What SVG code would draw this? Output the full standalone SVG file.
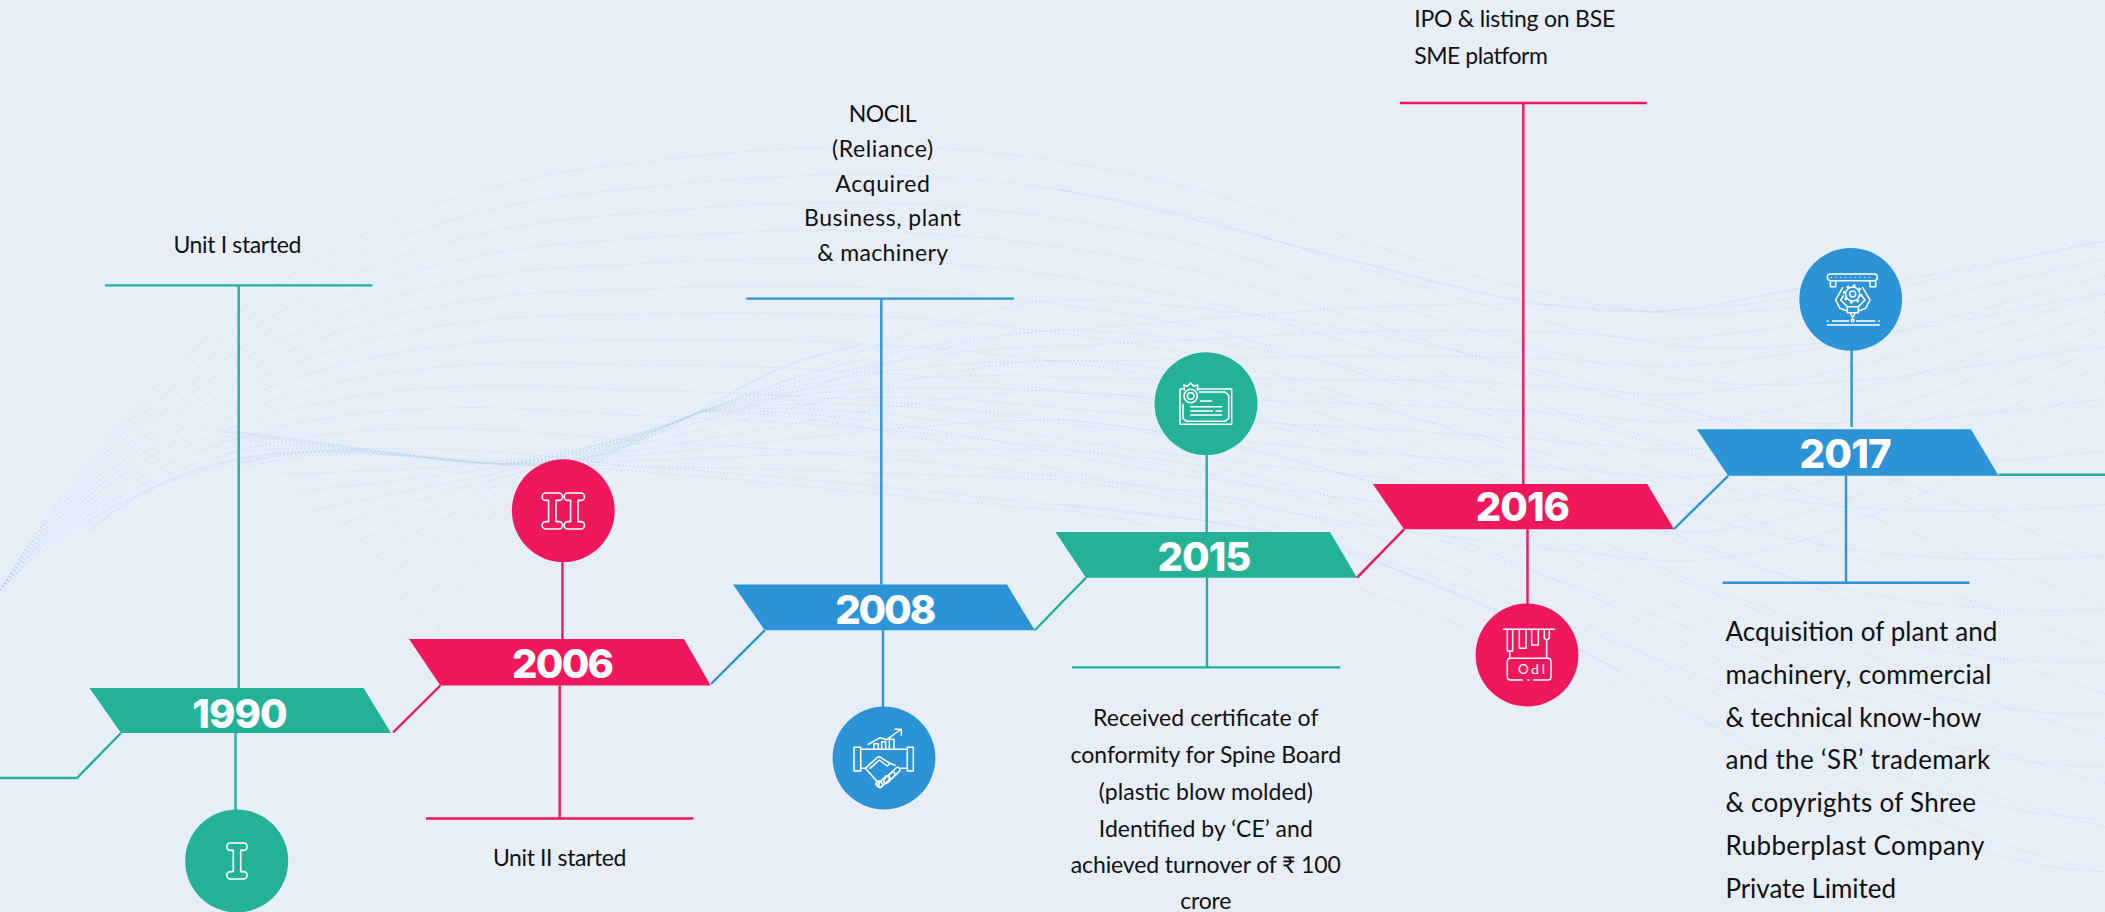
<svg xmlns="http://www.w3.org/2000/svg" width="2105" height="912" viewBox="0 0 2105 912">
<style>
.w{fill:none;stroke:#a9cfee;stroke-width:.9;stroke-dasharray:1.3 2.6;opacity:.7}
.b{fill:none;stroke:#c3dcf2;stroke-linecap:round;stroke-width:2;opacity:.35}
.c{fill:none;stroke-width:2.4}
.tl{stroke:#23b298}.pk{stroke:#f1175c}.bl{stroke:#2c93d6}
.ftl{fill:#23b298}.fpk{fill:#f1175c}.fbl{fill:#2c93d6}
.y{font-family:Inter,"Liberation Sans",sans-serif;font-weight:800;font-size:40px;fill:#fff;text-anchor:middle}
.t{font-family:Lato,"Noto Sans",sans-serif;font-size:23px;fill:#111;text-anchor:middle}
.s{text-anchor:start}
.l{font-size:26px}
.i{fill:none;stroke:#fff;stroke-width:1.6;stroke-linejoin:round;stroke-linecap:round}
.z{fill:none;stroke:#fff;stroke-width:4.6;stroke-linejoin:round;stroke-linecap:round}
</style>
<defs><path id="ibeam" d="M-6.5,-18H6.5a3.7,3.7 0 0 1 0,7.4H3.7V10.6H6.5a3.7,3.7 0 0 1 0,7.4H-6.5a3.7,3.7 0 0 1 0,-7.4H-3.7V-10.6H-6.5a3.7,3.7 0 0 1 0,-7.4Z"/></defs>
<rect width="2105" height="912" fill="#e7eef8"/>
<g id="waves">
<path class="w" d="M0,590C150,440 350,430 620,465C850,480 1000,500 1200,520C1350,545 1500,600 1653,690C1800,780 1950,865 2105,872"/>
<path class="w" d="M0,590C150,432 350,410 620,440C850,451 1000,470 1200,492C1350,519 1500,575 1653,658C1800,742 1950,815 2105,819"/>
<path class="w" d="M0,590C150,423 350,390 620,415C850,422 1000,440 1200,465C1350,493 1500,549 1653,627C1800,704 1950,766 2105,767"/>
<path class="w" d="M0,590C150,415 350,370 620,390C850,394 1000,410 1200,437C1350,468 1500,524 1653,595C1800,666 1950,716 2105,714"/>
<path class="w" d="M0,590C150,407 350,350 620,365C850,365 1000,380 1200,410C1350,442 1500,498 1653,564C1800,628 1950,667 2105,662"/>
<path class="w" d="M0,590C150,398 350,330 620,340C850,336 1000,350 1200,382C1350,416 1500,473 1653,532C1800,590 1950,617 2105,609"/>
<path class="w" d="M0,590C150,390 350,310 620,315C850,307 1000,320 1200,355C1350,390 1500,447 1653,501C1800,553 1950,567 2105,556"/>
<path class="w" d="M0,590C150,382 350,290 620,290C850,279 1000,290 1200,327C1350,364 1500,422 1653,469C1800,515 1950,518 2105,504"/>
<path class="w" d="M0,590C150,373 350,270 620,265C850,250 1000,260 1200,300C1350,338 1500,397 1653,438C1800,477 1950,468 2105,451"/>
<path class="w" d="M0,590C150,365 350,250 620,240C850,221 1000,230 1200,272C1350,312 1500,371 1653,406C1800,439 1950,419 2105,399"/>
<path class="w" d="M0,590C150,357 350,230 620,215C850,192 1000,200 1200,245C1350,287 1500,346 1653,375C1800,401 1950,369 2105,346"/>
<path class="w" d="M0,590C150,348 350,210 620,190C850,164 1000,170 1200,217C1350,261 1500,320 1653,343C1800,363 1950,320 2105,293"/>
<path class="w" d="M0,590C150,340 350,190 620,165C850,135 1000,140 1200,190C1350,235 1500,295 1653,312C1800,325 1950,270 2105,241"/>
<path class="w" d="M433,640C470,540 560,470 700,412C780,410 900,430 1060,470C1250,510 1450,540 1653,560C1800,570 1950,480 2105,400"/>
<path class="w" d="M416,622C462,532 560,470 700,412C780,407 900,420 1060,454C1250,489 1450,512 1653,532C1800,541 1950,457 2105,382"/>
<path class="w" d="M398,603C454,524 560,470 700,412C780,403 900,410 1060,439C1250,467 1450,484 1653,505C1800,511 1950,433 2105,365"/>
<path class="w" d="M381,585C447,517 560,470 700,412C780,400 900,400 1060,423C1250,446 1450,457 1653,477C1800,482 1950,410 2105,347"/>
<path class="w" d="M364,566C439,509 560,470 700,412C780,397 900,390 1060,408C1250,425 1450,429 1653,450C1800,452 1950,387 2105,329"/>
<path class="w" d="M346,548C431,501 560,470 700,412C780,393 900,380 1060,392C1250,403 1450,401 1653,422C1800,423 1950,363 2105,312"/>
<path class="w" d="M329,529C423,493 560,470 700,412C780,390 900,370 1060,377C1250,382 1450,373 1653,395C1800,393 1950,340 2105,294"/>
<path class="w" d="M312,511C416,486 560,470 700,412C780,387 900,360 1060,361C1250,361 1450,346 1653,367C1800,364 1950,317 2105,276"/>
<path class="w" d="M294,492C408,478 560,470 700,412C780,383 900,350 1060,346C1250,339 1450,318 1653,340C1800,334 1950,293 2105,259"/>
<path class="w" d="M277,474C400,470 560,470 700,412C780,380 900,340 1060,330C1250,318 1450,290 1653,312C1800,305 1950,270 2105,241"/>
<path class="w" d="M240,470C330,440 420,460 500,464C700,470 900,500 1060,510C1200,525 1400,600 1653,700C1800,760 1950,840 2105,872"/>
<path class="w" d="M237,464C330,440 420,460 500,464C700,466 900,473 1060,480C1200,493 1400,561 1653,657C1800,714 1950,791 2105,827"/>
<path class="w" d="M233,459C330,440 420,460 500,464C700,461 900,446 1060,450C1200,461 1400,523 1653,614C1800,669 1950,743 2105,783"/>
<path class="w" d="M230,453C330,440 420,460 500,464C700,457 900,419 1060,420C1200,429 1400,484 1653,571C1800,623 1950,694 2105,738"/>
<path class="w" d="M226,447C330,440 420,460 500,464C700,453 900,392 1060,390C1200,397 1400,446 1653,528C1800,577 1950,646 2105,694"/>
<path class="w" d="M223,441C330,440 420,460 500,464C700,448 900,364 1060,360C1200,364 1400,407 1653,486C1800,531 1950,597 2105,649"/>
<path class="w" d="M219,436C330,440 420,460 500,464C700,444 900,337 1060,330C1200,332 1400,369 1653,443C1800,486 1950,549 2105,605"/>
<path class="w" d="M216,430C330,440 420,460 500,464C700,440 900,310 1060,300C1200,300 1400,330 1653,400C1800,440 1950,500 2105,560"/>
<path class="b" d="M90,530C150,480 210,458 300,452C380,446 450,462 530,465"/>
<path class="b" d="M225,432C320,440 420,462 500,464C590,470 650,440 720,400C770,370 800,358 860,345"/>
<path class="b" d="M1060,190C1200,215 1280,245 1383,268C1480,295 1560,312 1653,312C1720,308 1780,290 1840,282"/>
<path class="b" d="M1060,504C1200,518 1300,530 1383,564C1480,605 1550,630 1620,672"/>
</g>
<g id="connectors">
<path class="c tl" d="M0,778H77L121,733M105,285.4H372.4M238.7,285.4V688M235.5,733V810"/>
<path class="c pk" d="M393,732.5L440.3,685.5M426,818.5H693.3M559.7,685.5V818.5M562.4,562V639"/>
<path class="c bl" d="M711,684L764.7,630.3M746.4,298.6H1013.8M881.3,298.6V584.6M883,630.3V707"/>
<path class="c tl" d="M1035,630L1086,577.7M1071.9,667.4H1340.2M1207,577.7V667.4M1206.7,455V532"/>
<path class="c pk" d="M1357,577.7L1404,529.3M1399.9,103H1646.8M1523.3,103V484M1527.5,529.3V604"/>
<path class="c bl" d="M1674,529L1728.2,475.8M1722.6,582.8H1969.5M1846,475.8V582.8M1851.6,350V427"/>
<path class="c tl" d="M1998.6,474.8H2105"/>
</g>
<g id="node-1990">
<polygon class="ftl" points="89.5,688 363.6,688 391,733 121,733"/>
<text class="y" x="240" y="727.6" textLength="95.5">1990</text>
<circle class="ftl" cx="236.7" cy="861" r="51.5"/>
<use href="#ibeam" class="i" x="237" y="861"/>
<text class="t" x="237.4" y="253.4" textLength="128">Unit I started</text>
</g>
<g id="node-2006">
<polygon class="fpk" points="409,639 684,639 710.7,685.5 440.3,685.5"/>
<text class="y" x="563" y="677.6" textLength="102">2006</text>
<circle class="fpk" cx="563.3" cy="510.7" r="51.4"/>
<use href="#ibeam" class="i" x="552.3" y="511"/>
<use href="#ibeam" class="i" x="574.3" y="511"/>
<text class="t" x="559.7" y="866" textLength="133.6">Unit II started</text>
</g>
<g id="node-2008">
<polygon class="fbl" points="733,584.6 1007,584.6 1034.8,630.3 764.7,630.3"/>
<text class="y" x="885.7" y="624" textLength="101">2008</text>
<circle class="fbl" cx="884" cy="758" r="51.4"/>
<g transform="translate(820,700) scale(.3333)" class="z">
<rect x="102" y="142" width="20" height="71"/>
<rect x="262" y="142" width="18" height="71"/>
<path d="M145,133L180,113L200,119L240,90M225,88H244V106"/>
<path d="M162,148V131H175V148M185,148V125H197V148M208,148V118H222V148"/>
<path d="M122,148H262M122,205H136L172,172Q180,168 186,175L210,190L202,198L178,180L150,205M136,205L178,252M210,190L225,196M245,205H262"/>
<rect x="170" y="243" width="16" height="20" rx="7" transform="rotate(-45 178 253)"/>
<rect x="185" y="223" width="14" height="42" rx="7" transform="rotate(45 192 244)"/>
<rect x="201" y="212" width="14" height="42" rx="7" transform="rotate(45 208 233)"/>
<rect x="216" y="198" width="14" height="42" rx="7" transform="rotate(45 223 219)"/>
</g>
<text class="t" x="882.6" y="122.4" textLength="67.9">NOCIL</text>
<text class="t" x="882.6" y="157.2" textLength="101.3">(Reliance)</text>
<text class="t" x="882.6" y="192" textLength="94.6">Acquired</text>
<text class="t" x="882.6" y="226.4" textLength="157">Business, plant</text>
<text class="t" x="882.6" y="261.2" textLength="130.8">&amp; machinery</text>
</g>
<g id="node-2015">
<polygon class="ftl" points="1055.4,532 1330,532 1357,577.7 1086,577.7"/>
<text class="y" x="1204.5" y="571" textLength="93.8">2015</text>
<circle class="ftl" cx="1206" cy="403.7" r="51.4"/>
<g transform="translate(1150,345) scale(.3333)" class="z">
<path d="M140,132H245V238H90V132H98"/>
<path d="M148,141H225L236,151V220L225,229H110L99,220V178"/>
<circle cx="122" cy="153" r="20"/><circle cx="122" cy="153" r="10"/>
<path d="M103,135L102,120L113,124L122,114L131,124L143,120L143,135"/>
<path d="M152,168H185M122,185H215M122,198H188M198,198H215M122,210H215"/>
</g>
<text class="t" x="1205.8" y="725.6" textLength="225.4">Received certificate of</text>
<text class="t" x="1205.8" y="762.8" textLength="270.5">conformity for Spine Board</text>
<text class="t" x="1205.8" y="799.8" textLength="214">(plastic blow molded)</text>
<text class="t" x="1205.8" y="836.8" textLength="214">Identified by ‘CE’ and</text>
<text class="t" x="1205.8" y="873.3" textLength="270">achieved turnover of ₹ 100</text>
<text class="t" x="1205.8" y="909.3" textLength="51.3">crore</text>
</g>
<g id="node-2016">
<polygon class="fpk" points="1372.8,484 1647.2,484 1674,529.3 1404,529.3"/>
<text class="y" x="1522.9" y="521.4" textLength="94.3">2016</text>
<circle class="fpk" cx="1527" cy="655" r="51.4"/>
<g transform="translate(1465,595) scale(.3333)" class="z">
<path d="M115,103H268M127,103V168H143V103M163,103V160H183V103M200,103V150H220V103M238,103V130L245,135L253,130V103M134,168V190M245,135V190"/>
<path d="M172,255H137Q127,255 127,245V200Q127,190 137,190H248Q258,190 258,200V245Q258,255 248,255H205M189,255H191"/>
</g>
<text transform="rotate(180 1530.5 669)" x="1530.5" y="674" text-anchor="middle" font-family="Lato,'Liberation Sans',sans-serif" font-size="13.5" fill="#fff" letter-spacing="2.2">IPO</text>
<text class="t s" x="1414.2" y="26.6" textLength="201">IPO &amp; listing on BSE</text>
<text class="t s" x="1414.2" y="64" textLength="133.6">SME platform</text>
</g>
<g id="node-2017">
<polygon class="fbl" points="1696.7,429.2 1970.9,429.2 1998.6,475.8 1728.2,475.8"/>
<text class="y" x="1845.6" y="468.3" textLength="92">2017</text>
<circle class="fbl" cx="1850.7" cy="299.3" r="51.4"/>
<g transform="translate(1790,240) scale(.3333)" class="z">
<rect x="112" y="102" width="150" height="20" rx="10"/>
<path d="M124,112H250" stroke-width="4" stroke-dasharray="0 14.3"/>
<path d="M121,122V140H137V122M240,122V140H257V122"/>
<circle cx="188" cy="162" r="21"/><circle cx="188" cy="162" r="9"/>
<circle cx="188" cy="162" r="26" stroke-width="7" stroke-dasharray="8 12.4" stroke-linecap="butt"/>
<path d="M158,143L137,180L150,205L172,213M160,168L152,180L172,200M218,143L240,180L227,205L205,213M216,168L225,180L205,200"/>
<path d="M172,200H205V218H172ZM180,218L188,233L196,218"/>
<circle cx="188" cy="241" r="4"/>
<path d="M112,243H114M128,243H176M200,243H255M266,243H268M112,255H268"/>
</g>
<text class="t s l" x="1725.4" y="641.3" textLength="272">Acquisition of plant and</text>
<text class="t s l" x="1725.4" y="684.3" textLength="265.9">machinery, commercial</text>
<text class="t s l" x="1725.4" y="726.8" textLength="255.7">&amp; technical know-how</text>
<text class="t s l" x="1725.4" y="769.4" textLength="264.9">and the ‘SR’ trademark</text>
<text class="t s l" x="1725.4" y="812.2" textLength="250.6">&amp; copyrights of Shree</text>
<text class="t s l" x="1725.4" y="855" textLength="258.9">Rubberplast Company</text>
<text class="t s l" x="1725.4" y="897.5" textLength="170.6">Private Limited</text>
</g>
</svg>
